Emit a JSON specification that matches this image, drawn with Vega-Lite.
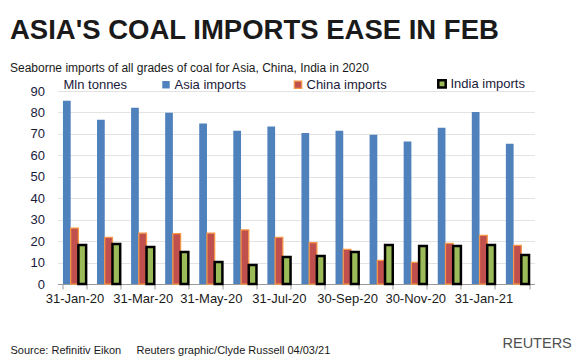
{
  "$schema": "https://vega.github.io/schema/vega-lite/v6.json",
  "autosize": {"type": "none"},
  "width": 477,
  "height": 193,
  "padding": {"left": 57.5, "top": 91, "right": 42.5, "bottom": 78},
  "background": "white",
  "config": {
    "font": "Liberation Sans",
    "view": {"stroke": null}
  },
  "title": {
    "text": "ASIA'S COAL IMPORTS EASE IN FEB",
    "subtitle": "Seaborne imports of all grades of coal for Asia, China, India in 2020",
    "anchor": "start",
    "frame": "group",
    "dx": -47.5,
    "dy": 7,
    "fontSize": 27.5,
    "fontWeight": "bold",
    "color": "#1a1a1a",
    "subtitleFontSize": 12,
    "subtitleColor": "#1a1a1a",
    "subtitlePadding": 19,
    "offset": 10
  },
  "data": {
    "values": [
      {"month": "31-Jan-20", "series": "Asia imports", "value": 85.5},
      {"month": "29-Feb-20", "series": "Asia imports", "value": 76.6},
      {"month": "31-Mar-20", "series": "Asia imports", "value": 82.2},
      {"month": "30-Apr-20", "series": "Asia imports", "value": 79.9},
      {"month": "31-May-20", "series": "Asia imports", "value": 74.8},
      {"month": "30-Jun-20", "series": "Asia imports", "value": 71.5},
      {"month": "31-Jul-20", "series": "Asia imports", "value": 73.4},
      {"month": "31-Aug-20", "series": "Asia imports", "value": 70.4},
      {"month": "30-Sep-20", "series": "Asia imports", "value": 71.5},
      {"month": "31-Oct-20", "series": "Asia imports", "value": 69.6},
      {"month": "30-Nov-20", "series": "Asia imports", "value": 66.4},
      {"month": "31-Dec-20", "series": "Asia imports", "value": 72.9},
      {"month": "31-Jan-21", "series": "Asia imports", "value": 80.2},
      {"month": "28-Feb-21", "series": "Asia imports", "value": 65.4},
      {"month": "31-Jan-20", "series": "China imports", "value": 26.1},
      {"month": "29-Feb-20", "series": "China imports", "value": 21.8},
      {"month": "31-Mar-20", "series": "China imports", "value": 23.7},
      {"month": "30-Apr-20", "series": "China imports", "value": 23.5},
      {"month": "31-May-20", "series": "China imports", "value": 23.7},
      {"month": "30-Jun-20", "series": "China imports", "value": 25.2},
      {"month": "31-Jul-20", "series": "China imports", "value": 21.8},
      {"month": "31-Aug-20", "series": "China imports", "value": 19.3},
      {"month": "30-Sep-20", "series": "China imports", "value": 16.2},
      {"month": "31-Oct-20", "series": "China imports", "value": 11.0},
      {"month": "30-Nov-20", "series": "China imports", "value": 10.1},
      {"month": "31-Dec-20", "series": "China imports", "value": 19.0},
      {"month": "31-Jan-21", "series": "China imports", "value": 22.7},
      {"month": "28-Feb-21", "series": "China imports", "value": 18.0},
      {"month": "31-Jan-20", "series": "India imports", "value": 18.2},
      {"month": "29-Feb-20", "series": "India imports", "value": 18.7},
      {"month": "31-Mar-20", "series": "India imports", "value": 17.3},
      {"month": "30-Apr-20", "series": "India imports", "value": 14.9},
      {"month": "31-May-20", "series": "India imports", "value": 10.3},
      {"month": "30-Jun-20", "series": "India imports", "value": 8.9},
      {"month": "31-Jul-20", "series": "India imports", "value": 12.6},
      {"month": "31-Aug-20", "series": "India imports", "value": 13.1},
      {"month": "30-Sep-20", "series": "India imports", "value": 14.9},
      {"month": "31-Oct-20", "series": "India imports", "value": 18.2},
      {"month": "30-Nov-20", "series": "India imports", "value": 17.7},
      {"month": "31-Dec-20", "series": "India imports", "value": 17.7},
      {"month": "31-Jan-21", "series": "India imports", "value": 18.2},
      {"month": "28-Feb-21", "series": "India imports", "value": 13.5}
    ]
  },
  "layer": [
    {
      "mark": {"type": "bar"},
      "encoding": {
        "x": {
          "field": "month",
          "type": "nominal",
          "sort": null,
          "scale": {"paddingInner": 0.32, "paddingOuter": 0.16},
          "axis": {
            "title": "Source: Refinitiv Eikon\u00a0\u00a0\u00a0\u00a0\u00a0Reuters graphic/Clyde Russell 04/03/21",
            "titleFontSize": 11,
            "titleFontWeight": "normal",
            "titleColor": "#1a1a1a",
            "titleAlign": "left",
            "titleBaseline": "alphabetic",
            "titleX": -47.5,
            "titleY": 69,
            "labelAngle": 0,
            "labelFontSize": 13,
            "labelColor": "#1a1a1a",
            "labelPadding": 3,
            "labelExpr": "indexof(['31-Jan-20','31-Mar-20','31-May-20','31-Jul-20','30-Sep-20','30-Nov-20','31-Jan-21'], datum.value) >= 0 ? datum.label : ''",
            "tickBand": "extent",
            "tickSize": 5,
            "tickColor": "#9a9a9a",
            "domainColor": "#9a9a9a",
            "grid": false
          }
        },
        "xOffset": {
          "field": "series",
          "type": "nominal",
          "sort": ["Asia imports", "China imports", "India imports"],
          "scale": {"paddingInner": 0, "paddingOuter": 0}
        },
        "y": {
          "field": "value",
          "type": "quantitative",
          "scale": {"domain": [0, 90]},
          "axis": {
            "title": "Mln tonnes",
            "titleAngle": 0,
            "titleAlign": "left",
            "titleBaseline": "alphabetic",
            "titleX": 5.5,
            "titleY": -3,
            "titleFontSize": 13,
            "titleFontWeight": "normal",
            "titleColor": "#1a1a3a",
            "values": [0, 10, 20, 30, 40, 50, 60, 70, 80, 90],
            "labelFontSize": 13,
            "labelColor": "#1a1a3a",
            "labelPadding": 13,
            "ticks": false,
            "domain": false,
            "grid": true,
            "gridColor": "#e3e3e3"
          }
        },
        "color": {
          "field": "series",
          "type": "nominal",
          "scale": {
            "domain": ["Asia imports", "China imports", "India imports"],
            "range": ["#4f81bd", "#c0504d", "#9bbb59"]
          },
          "legend": {
            "title": null,
            "orient": "none",
            "legendX": 102,
            "legendY": -14,
            "direction": "horizontal",
            "columns": 3,
            "columnPadding": 45,
            "symbolType": "square",
            "symbolSize": 55,
            "symbolStrokeWidth": 1,
            "labelFontSize": 13,
            "labelColor": "#1a1a3a",
            "labelOffset": 2
          }
        },
        "stroke": {
          "field": "series",
          "type": "nominal",
          "scale": {
            "domain": ["Asia imports", "China imports", "India imports"],
            "range": ["#4f81bd", "#f79646", "#000000"]
          },
          "legend": {
            "title": null,
            "orient": "none",
            "legendX": 102,
            "legendY": -14,
            "direction": "horizontal",
            "columns": 3,
            "columnPadding": 45,
            "symbolType": "square",
            "symbolSize": 55,
            "symbolStrokeWidth": 1,
            "labelFontSize": 13,
            "labelColor": "#1a1a3a",
            "labelOffset": 2
          }
        },
        "strokeWidth": {
          "field": "series",
          "type": "nominal",
          "scale": {
            "domain": ["Asia imports", "China imports", "India imports"],
            "range": [0, 2.5, 1]
          },
          "legend": null
        }
      }
    },
    {
      "mark": {"type": "text", "text": ""},
      "encoding": {
        "y": {
          "field": "value",
          "type": "quantitative",
          "axis": {
            "orient": "right",
            "title": "REUTERS",
            "titleAngle": 0,
            "titleAlign": "left",
            "titleBaseline": "alphabetic",
            "titleX": -32.5,
            "titleY": 256,
            "titleFontSize": 14.5,
            "titleFontWeight": "normal",
            "titleColor": "#505050",
            "labels": false,
            "ticks": false,
            "domain": false,
            "grid": false
          }
        }
      }
    }
  ],
  "resolve": {"axis": {"y": "independent"}}
}
